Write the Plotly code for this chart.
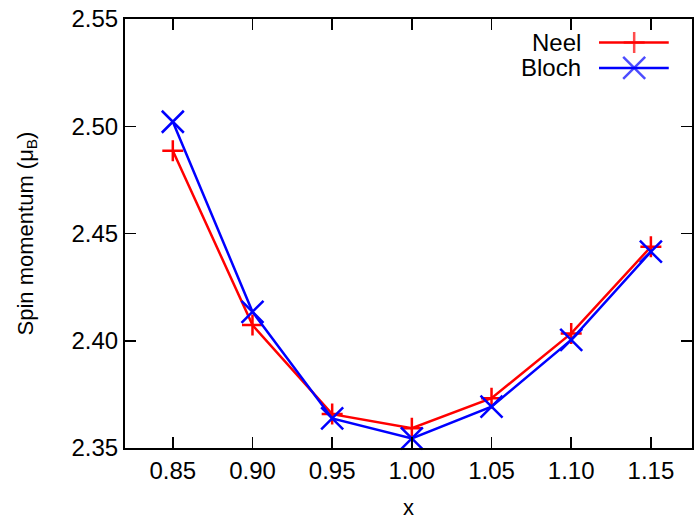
import plotly.graph_objects as go

x_vals = [0.85, 0.90, 0.95, 1.00, 1.05, 1.10, 1.15]
neel = [2.4886, 2.4073, 2.3658, 2.3592, 2.3732, 2.4034, 2.4438]
bloch = [2.5021, 2.4135, 2.3638, 2.3545, 2.3693, 2.4004, 2.4415]
x_ticks = [0.85, 0.90, 0.95, 1.00, 1.05, 1.10, 1.15]
y_ticks = [2.35, 2.40, 2.45, 2.50, 2.55]
series_names = ["Neel", "Bloch"]
colors = ["#ff0000", "#0000ff"]

FONT = "Liberation Sans, Arial, sans-serif"

fig = go.Figure()
fig.add_trace(go.Scatter(
    x=x_vals, y=neel, mode="lines+markers", name=series_names[0],
    line=dict(color=colors[0], width=2.5),
    marker=dict(symbol="cross-thin-open", size=15, line=dict(color=colors[0], width=2.5)),
    showlegend=False, cliponaxis=False))
fig.add_trace(go.Scatter(
    x=x_vals, y=bloch, mode="lines+markers", name=series_names[1],
    line=dict(color=colors[1], width=2.5),
    marker=dict(symbol="x-thin-open", size=22, line=dict(color=colors[1], width=2.5)),
    showlegend=False, cliponaxis=False))

# manual legend (text left, sample right) on an overlay axis
leg_x = [0.836, 0.898, 0.959]
leg_y = [0.945, 0.886]
symbols = ["cross-thin-open", "x-thin-open"]
sizes = [15, 22]
for i in range(2):
    fig.add_trace(go.Scatter(
        x=leg_x, y=[leg_y[i]] * 3, xaxis="x2", yaxis="y2",
        mode="lines+markers", showlegend=False, hoverinfo="skip",
        line=dict(color=colors[i], width=2.5),
        marker=dict(symbol=symbols[i], size=[0, sizes[i], 0],
                    line=dict(color=colors[i], width=2.5)),
        cliponaxis=False))
    fig.add_annotation(x=0.808, y=leg_y[i], xref="paper", yref="paper",
                       text=series_names[i], showarrow=False, xanchor="right",
                       yanchor="middle", font=dict(family=FONT, size=24, color="black"))

axis_common = dict(
    showline=True, linecolor="black", linewidth=2, mirror="ticks",
    ticks="inside", ticklen=11, tickwidth=1.5, tickcolor="black",
    showgrid=False, zeroline=False, automargin=False,
    ticklabeloverflow="allow",
    tickfont=dict(family=FONT, size=24, color="black"),
)

fig.update_layout(
    width=694, height=520,
    margin=dict(l=125, r=2, t=19, b=72),
    plot_bgcolor="white", paper_bgcolor="white",
    xaxis=dict(range=[0.82, 1.1758], tickvals=x_ticks, tickformat=".2f",
               title=dict(text="x", font=dict(family=FONT, size=22, color="black"), standoff=18),
               **axis_common),
    yaxis=dict(range=[2.35, 2.55], tickvals=y_ticks, tickformat=".2f",
               title=dict(text="Spin momentum (μ<sub>B</sub>)",
                          font=dict(family=FONT, size=22, color="black"), standoff=32),
               **axis_common),
    xaxis2=dict(range=[0, 1], overlaying="x", visible=False, fixedrange=True),
    yaxis2=dict(range=[0, 1], overlaying="y", visible=False, fixedrange=True),
)

# remove the browser's default 8px body margin so the figure fills the window
fig.write_html("out.html",
               config={"displayModeBar": False, "staticPlot": True},
               post_script="document.body.style.margin='0';document.body.style.overflow='hidden';")
